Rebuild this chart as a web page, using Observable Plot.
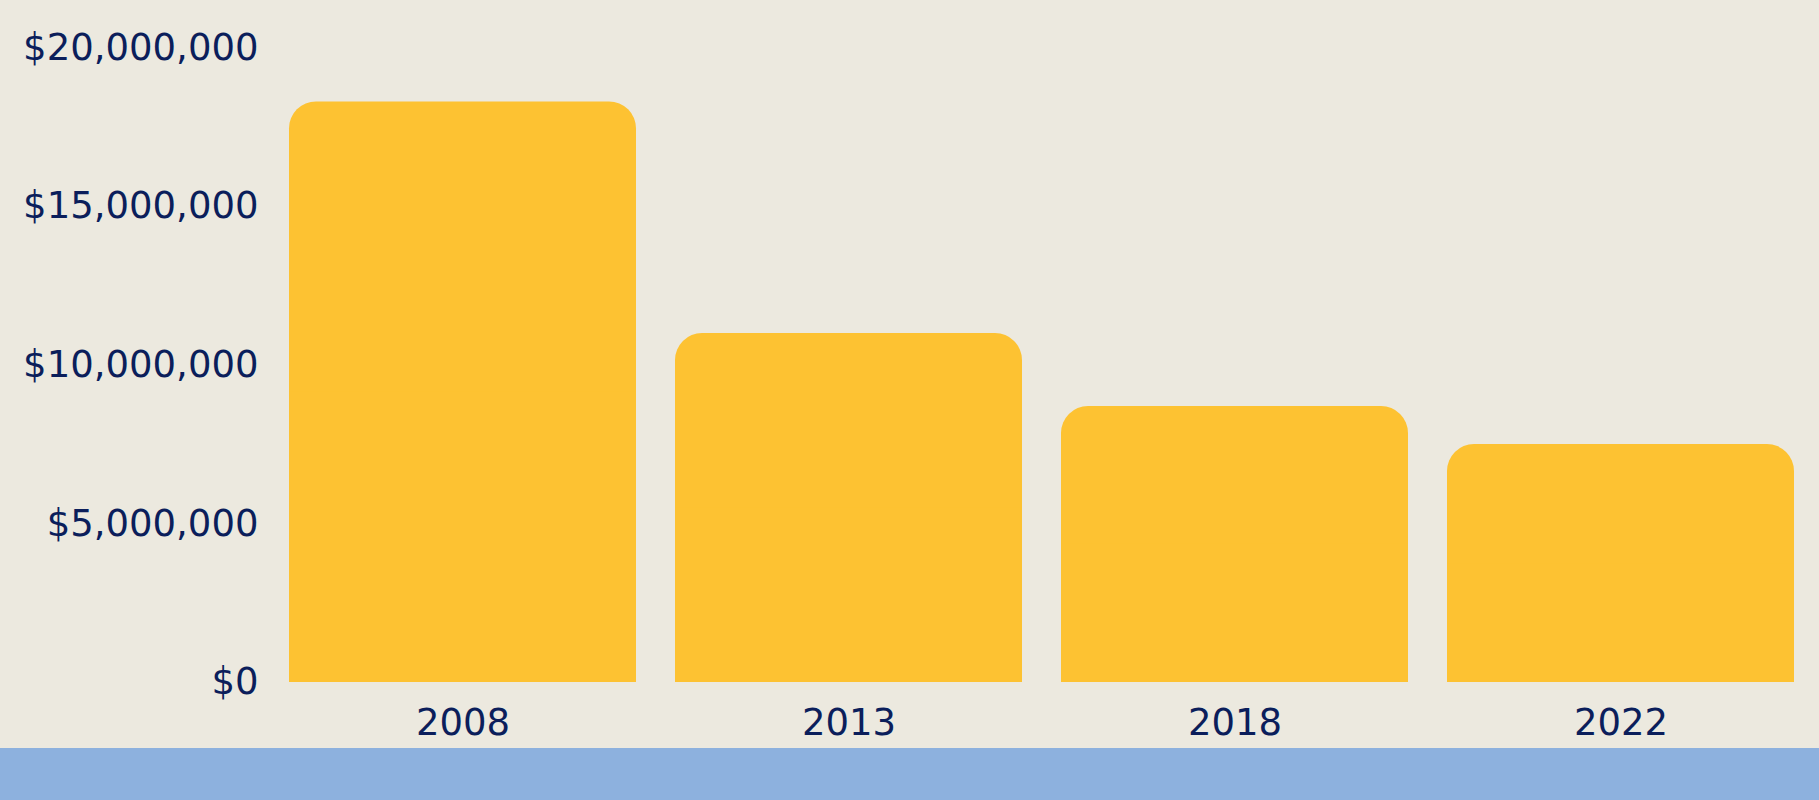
<!DOCTYPE html>
<html>
<head>
<meta charset="utf-8">
<script src="https://cdn.jsdelivr.net/npm/d3@7"></script>
<script src="https://cdn.jsdelivr.net/npm/@observablehq/plot@0.6"></script>
<style>
  html, body { margin: 0; padding: 0; background: #ECE9DF; overflow: hidden; }
  #chart svg { display: block; }
  #band { width: 1819px; height: 52px; background: #8DB1DE; }
</style>
</head>
<body>
<div id="chart"></div>
<div id="band"></div>
<script>
const years = ["2008", "2013", "2018", "2022"];
const amounts = [18300000, 11000000, 8700000, 7500000];
const yTicks = [0, 5000000, 10000000, 15000000, 20000000];

const data = years.map((year, i) => ({year, amount: amounts[i]}));
const fmt = d => "$" + d3.format(",")(d);

const chart = Plot.plot({
  width: 1819,
  height: 748,
  marginLeft: 289,
  marginRight: 24,
  marginTop: 47.5,
  marginBottom: 66,
  style: {
    background: "#ECE9DF",
    color: "#0B1E5B",
    fontFamily: "'DejaVu Sans', sans-serif",
    fontSize: "37px"
  },
  x: { domain: years, paddingInner: 0.1, paddingOuter: 0, label: null },
  y: { domain: [0, 20000000], label: null },
  marks: [
    Plot.barY(data, { x: "year", y: "amount", fill: "#FDC232", rx: 27 }),
    Plot.barY(data, { x: "year", y1: 0, y2: d => d.amount / 2, fill: "#FDC232" }),
    Plot.axisY({ ticks: yTicks, tickFormat: fmt, tickSize: 0, tickPadding: 31, fontSize: 37, fill: "#0B1E5B", label: null }),
    Plot.axisX({ tickSize: 0, tickPadding: 26, fontSize: 37, fill: "#0B1E5B", label: null })
  ]
});
document.getElementById("chart").appendChild(chart);
</script>
</body>
</html>
